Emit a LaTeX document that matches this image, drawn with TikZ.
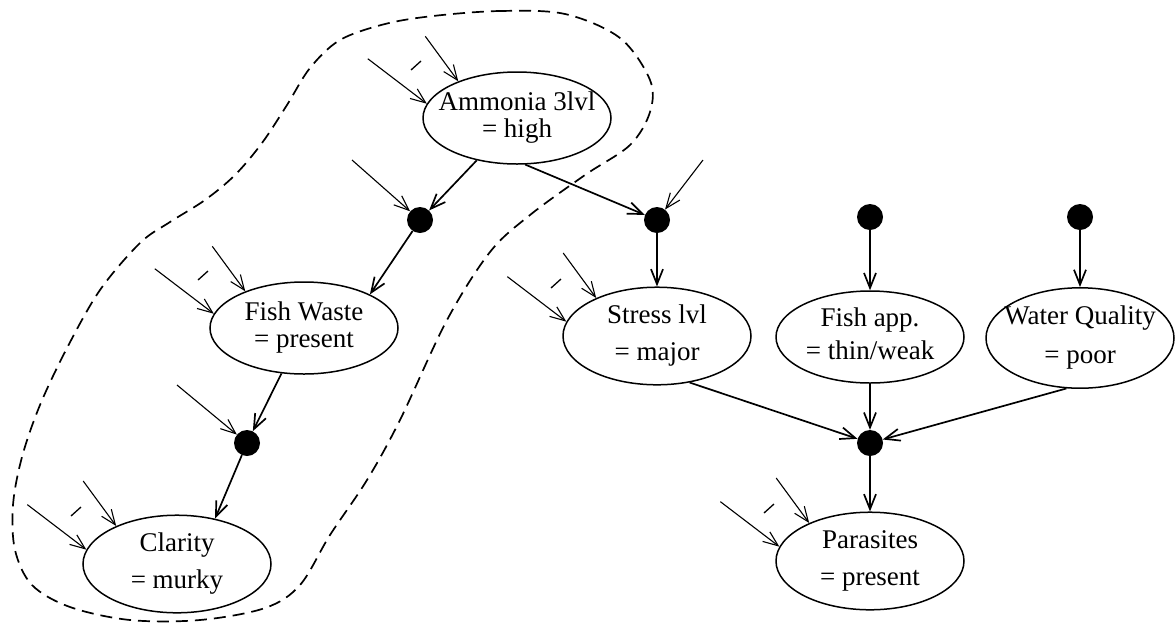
\documentclass[tikz,border=0pt]{standalone}
\usepackage{fontspec}
\setmainfont{Liberation Serif}
\usetikzlibrary{shapes.geometric,arrows.meta,calc}

% two-line variable label; its width does not enlarge the ellipse
\newcommand\vlab[3][0pt]{\makebox[0pt]{\begin{tabular}{@{}c@{}}#2\\[#1]#3\end{tabular}}}

% two incoming prior arrows and the gap mark between them
\newcommand\priors[1]{%
  \coordinate (#1-a) at ($(#1.171)+(-59,-45)$);
  \coordinate (#1-b) at ($(#1.148)+(-33,-45)$);
  \draw[stub] (#1-a) -- (#1.171);
  \draw[stub] (#1-b) -- (#1.148);
  \draw[gapmark] ($(#1.center)+(-106,-48)$) -- ($(#1.center)+(-96,-57)$);
}

\begin{document}
\begin{tikzpicture}[x=1pt,y=-1pt,
  font=\fontsize{27}{32}\selectfont,
  var/.style={ellipse, draw, line width=1.5pt, minimum width=188pt, minimum height=92pt, inner sep=0pt},
  hub/.style={circle, fill, inner sep=0pt, minimum size=26pt},
  tip/.style={-{Straight Barb[length=15pt,width=12pt]}},
  link/.style={tip, line width=1.7pt},
  stub/.style={tip, line width=1.1pt},
  gapmark/.style={line width=1.3pt},
  ring/.style={line width=1.7pt, dash pattern=on 12pt off 7pt}
]
\useasboundingbox (0,0) rectangle (1175,625);

% variables
\node[var] (amm) at (517,118) {\vlab[-5pt]{Ammonia 3lvl}{= high}};
\node[var] (fw)  at (304,328) {\vlab[-5pt]{Fish Waste}{= present}};
\node[var] (cl)  at (177,564) {\vlab[5pt]{Clarity}{= murky}};
\node[var] (st)  at (657,336) {\vlab[5pt]{Stress lvl}{= major}};
\node[var] (fa)  at (870,337) {\vlab[1pt]{Fish app.}{= thin/weak}};
\node[var] (wq)  at (1080,338) {\vlab[7pt]{Water Quality}{= poor}};
\node[var] (pa)  at (870,561) {\vlab[5pt]{Parasites}{= present}};

% conditional hubs
\node[hub] (h1) at (420,220) {};
\node[hub] (h2) at (657,220) {};
\node[hub] (h3) at (870,217) {};
\node[hub] (h4) at (1080,217) {};
\node[hub] (h5) at (247,443) {};
\node[hub] (h6) at (870,443) {};

% dependencies
\draw[link] (amm) -- (h1);
\draw[link] (h1) -- (fw.27);
\draw[link] (amm.-80) -- (h2);
\draw[link] (h2) -- (st);
\draw[link] (h3) -- (fa);
\draw[link] (h4) -- (wq);
\draw[link] (fw) -- (h5);
\draw[link] (h5) -- (cl.50);
\draw[link] (st.-55) -- (h6);
\draw[link] (fa) -- (h6);
\draw[link] (wq.-105) -- (h6);
\draw[link] (h6) -- (pa);

% prior inputs
\priors{amm}
\priors{fw}
\priors{cl}
\priors{st}
\priors{pa}
\coordinate (h1-in) at ($(h1)+(-68,-60)$);
\coordinate (h5-in) at ($(h5)+(-70,-58)$);
\coordinate (h2-in) at ($(h2)+(46,-60)$);
\draw[stub] (h1-in) -- (h1);
\draw[stub] (h5-in) -- (h5);
\draw[stub] (h2-in) -- (h2);

% dashed region around the ammonia chain
\draw[ring] plot[smooth cycle, tension=0.55] coordinates {
  (433,16) (500,11) (565,14) (620,38) (650,80) (650,112) (630,145) (585,175)
  (530,215) (490,252) (447,320) (400,420) (367,480) (330,535) (300,585)
  (265,608) (200,620) (130,620) (70,607) (32,585) (15,550) (13,505) (22,457)
  (40,405) (67,348) (100,290) (140,243) (170,222) (205,200) (235,175)
  (262,143) (287,105) (310,68) (340,40) (385,24)};
\end{tikzpicture}
\end{document}
